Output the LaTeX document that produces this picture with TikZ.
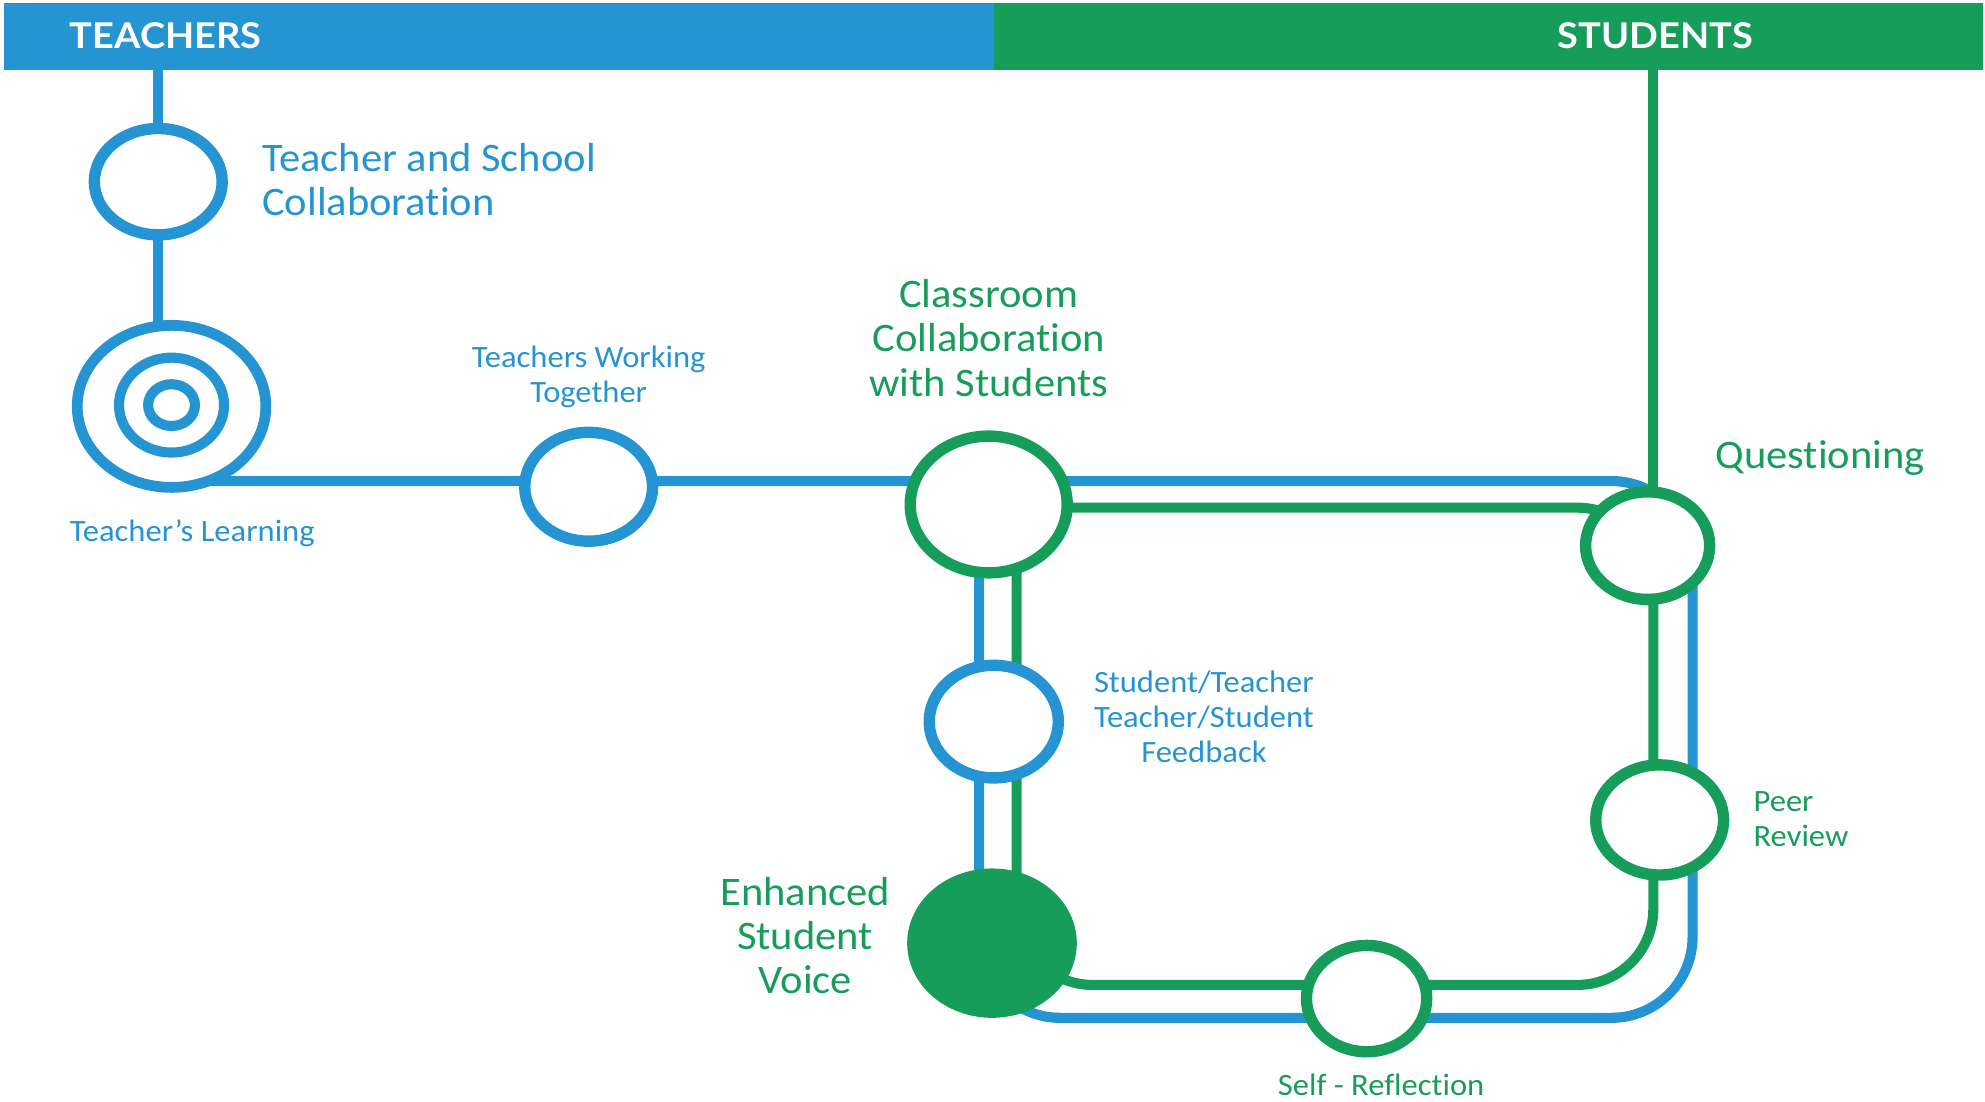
\documentclass[tikz,border=0pt]{standalone}
\usepackage{fontspec}
\setmainfont{Carlito}[FakeStretch=1.05,Ligatures=NoCommon]
\newfontfamily\hdrfont{Lato}[FakeStretch=1.07]
\usetikzlibrary{shapes.geometric,backgrounds}
\definecolor{tblue}{RGB}{37,148,210}
\definecolor{sgreen}{RGB}{23,157,90}

\begin{document}
\begin{tikzpicture}[x=1pt,y=-1pt,
  ring/.style={ellipse,draw,line width=9pt,fill=white,inner sep=0pt},
  track/.style={line width=8pt},
  bigtxt/.style={font=\fontsize{32}{35}\selectfont,inner sep=0pt},
  smalltxt/.style={font=\fontsize{24.5}{27.5}\selectfont,inner sep=0pt},
  hdr/.style={inner sep=0pt,anchor=north west,minimum height=53pt},
  hdrtxt/.style={text=white,font=\hdrfont\fontsize{28}{32}\selectfont\bfseries,inner sep=0pt}
]
\useasboundingbox (0,0) rectangle (1568,870);

% header bands
\node[hdr,fill=tblue,minimum width=782pt] (hdrT) at (3,2) {};
\node[hdr,fill=sgreen,minimum width=781pt] (hdrS) at (785,2) {};
\node[hdrtxt,anchor=west] (tlab) at (55,28) {TEACHERS};
\node[hdrtxt] (slab) at (1307.5,28) {STUDENTS};

% stations, teachers line
\node[ring,draw=tblue,minimum width=101pt,minimum height=84pt] (tsc) at (125,143.5) {};
\node[ring,draw=tblue,line width=8.5pt,minimum width=149pt,minimum height=128pt] (tl) at (135.5,321) {};
\node[ring,draw=tblue,line width=8pt,minimum width=83pt,minimum height=75pt] (tlm) at (135.5,320) {};
\node[ring,draw=tblue,line width=8pt,minimum width=37pt,minimum height=33pt] (tli) at (135.5,320) {};
\node[ring,draw=tblue,minimum width=101pt,minimum height=86pt] (twt) at (465,384.5) {};
\node[ring,draw=tblue,minimum width=102pt,minimum height=89pt] (fb) at (785,570) {};

% stations, students line
\node[ring,draw=sgreen,minimum width=124pt,minimum height=108pt] (ccs) at (781,398.5) {};
\node[ellipse,fill=sgreen,inner sep=0pt,minimum width=134pt,minimum height=118pt] (esv) at (783.6,745) {};
\node[ring,draw=sgreen,minimum width=98pt,minimum height=85pt] (q) at (1301.5,431) {};
\node[ring,draw=sgreen,minimum width=101pt,minimum height=87pt] (pr) at (1311,647.7) {};
\node[ring,draw=sgreen,minimum width=95pt,minimum height=84pt] (sr) at (1079.5,788.8) {};

% corners of the two loops
\coordinate (bBL) at (773.4,804);
\coordinate (bBR) at (1337,804);
\coordinate (bTR) at (1337,380);
\coordinate (gTR) at (1306,401);
\coordinate (gBR) at (1306,778);
\coordinate (gBL) at (803,778);
\coordinate (gTop) at (1306,55);

\begin{scope}[on background layer]
  % teachers line
  \draw[track,tblue] (tsc.center |- hdrT.south) -- (tsc.center);
  \draw[track,tblue] (tsc.center) -- (tsc.center |- tl.center);
  \draw[track,tblue,rounded corners=64pt]
    (bBL |- ccs.center) -- (bBL) -- (bBR) -- (bTR) -- (tl.center |- bTR);
  % students line
  \draw[track,sgreen] (gTop) -- (gTop |- q.center);
  \draw[track,sgreen,rounded corners=60pt]
    (ccs.center |- gTR) -- (gTR) -- (gBR) -- (gBL) -- (gBL |- ccs.center);
\end{scope}

% labels
\node[bigtxt,text=tblue,align=left,anchor=west] (tscl) at (207,142) {Teacher and School\\Collaboration};
\node[smalltxt,text=tblue,align=center] (twtl) at (465,298) {Teachers Working\\Together};
\node[smalltxt,text=tblue,anchor=west] (tll) at (55,421) {Teacher’s Learning};
\node[bigtxt,text=sgreen,align=center] (ccsl) at (781,267) {Classroom\\Collaboration\\with Students};
\node[bigtxt,text=sgreen,anchor=west] (ql) at (1355,362) {Questioning};
\node[smalltxt,text=tblue,align=center] (fbl) at (951,566) {Student/Teacher\\Teacher/Student\\Feedback};
\node[smalltxt,text=sgreen,align=left,anchor=west] (prl) at (1385,647) {Peer\\Review};
\node[bigtxt,text=sgreen,align=center] (esvl) at (636,739) {Enhanced\\Student\\Voice};
\node[smalltxt,text=sgreen] (srl) at (1091,857) {Self - Reflection};
\end{tikzpicture}
\end{document}
